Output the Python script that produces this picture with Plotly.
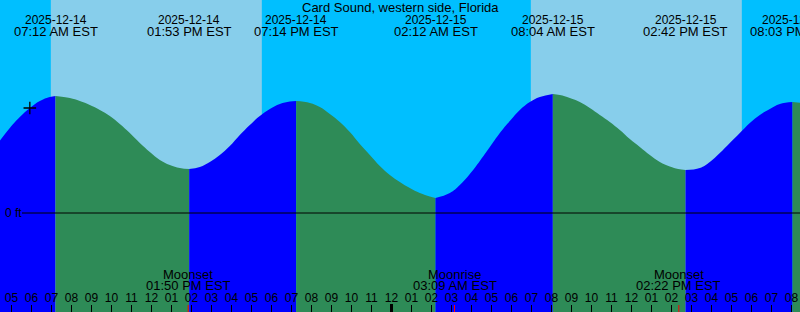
import plotly.graph_objects as go
from datetime import datetime

# ---------------- data ----------------
TITLE = "Card Sound, western side, Florida"

tide_times = [
    "2025-12-14 04:20", "2025-12-14 04:55", "2025-12-14 05:25", "2025-12-14 05:55",
    "2025-12-14 06:25", "2025-12-14 06:55", "2025-12-14 07:12", "2025-12-14 07:55",
    "2025-12-14 08:25", "2025-12-14 08:55", "2025-12-14 09:25", "2025-12-14 09:55",
    "2025-12-14 10:25", "2025-12-14 10:55", "2025-12-14 11:25", "2025-12-14 11:55",
    "2025-12-14 12:25", "2025-12-14 12:55", "2025-12-14 13:25", "2025-12-14 13:53",
    "2025-12-14 14:25", "2025-12-14 14:55", "2025-12-14 15:25", "2025-12-14 15:55",
    "2025-12-14 16:25", "2025-12-14 16:55", "2025-12-14 17:25", "2025-12-14 17:55",
    "2025-12-14 18:25", "2025-12-14 18:55", "2025-12-14 19:14", "2025-12-14 19:55",
    "2025-12-14 20:25", "2025-12-14 20:55", "2025-12-14 21:25", "2025-12-14 21:55",
    "2025-12-14 22:25", "2025-12-14 22:55", "2025-12-14 23:25", "2025-12-14 23:55",
    "2025-12-15 00:25", "2025-12-15 00:55", "2025-12-15 01:25", "2025-12-15 01:55",
    "2025-12-15 02:12", "2025-12-15 02:55", "2025-12-15 03:25", "2025-12-15 03:55",
    "2025-12-15 04:25", "2025-12-15 04:55", "2025-12-15 05:25", "2025-12-15 05:55",
    "2025-12-15 06:25", "2025-12-15 06:55", "2025-12-15 07:25", "2025-12-15 08:04",
    "2025-12-15 08:25", "2025-12-15 08:55", "2025-12-15 09:25", "2025-12-15 09:55",
    "2025-12-15 10:25", "2025-12-15 10:55", "2025-12-15 11:25", "2025-12-15 11:55",
    "2025-12-15 12:25", "2025-12-15 12:55", "2025-12-15 13:25", "2025-12-15 13:55",
    "2025-12-15 14:20", "2025-12-15 14:42", "2025-12-15 15:25", "2025-12-15 15:55",
    "2025-12-15 16:25", "2025-12-15 16:55", "2025-12-15 17:25", "2025-12-15 17:55",
    "2025-12-15 18:25", "2025-12-15 18:55", "2025-12-15 19:25", "2025-12-15 20:03",
    "2025-12-15 20:30",
]
tide_ft = [
    0.70, 0.85, 0.96, 1.05,
    1.12, 1.16, 1.17, 1.15,
    1.12, 1.08, 1.03, 0.97,
    0.89, 0.80, 0.70, 0.61,
    0.53, 0.48, 0.45, 0.44,
    0.46, 0.51, 0.58, 0.67,
    0.78, 0.88, 0.97, 1.04,
    1.09, 1.115, 1.12, 1.10,
    1.06, 0.99, 0.91, 0.81,
    0.69, 0.58, 0.47, 0.38,
    0.31, 0.25, 0.20, 0.165,
    0.15, 0.20, 0.28, 0.39,
    0.52, 0.66, 0.80, 0.92,
    1.03, 1.11, 1.16, 1.19,
    1.18, 1.15, 1.11, 1.05,
    0.98, 0.91, 0.83, 0.74,
    0.66, 0.58, 0.51, 0.465,
    0.44, 0.43, 0.45, 0.51,
    0.60, 0.70, 0.80, 0.90,
    0.98, 1.04, 1.09, 1.11,
    1.10,
]

# tide extremes (labelled along the top)
event_times = ["2025-12-14 07:12", "2025-12-14 13:53", "2025-12-14 19:14",
               "2025-12-15 02:12", "2025-12-15 08:04", "2025-12-15 14:42",
               "2025-12-15 20:03"]

# sun
sunrise_times = ["2025-12-14 06:58", "2025-12-15 06:58"]
sunset_times = ["2025-12-14 17:31", "2025-12-15 17:31"]

# moon
moon_times = ["2025-12-14 13:50", "2025-12-15 03:09", "2025-12-15 14:22"]
moon_labels = ["Moonset", "Moonrise", "Moonset"]

# current-time marker
now_time = ["2025-12-14 05:55"]
now_ft = [1.05]

midnight_times = ["2025-12-15 00:00"]

X_RANGE = ["2025-12-14 04:25:30", "2025-12-15 20:25:30"]
Y_RANGE = [-0.99, 2.13]

# ---------------- styling ----------------
NIGHT = "#00BFFF"
DAY = "#87CEEB"
RISE = "#0000FF"
FALL = "#2E8B57"
FONT = "Liberation Sans, Arial, sans-serif"
H = 312.0

fig = go.Figure()

# split curve into segments at the extremes
idx_events = [tide_times.index(t) for t in event_times]
bounds = [0] + idx_events + [len(tide_times) - 1]
for a, b in zip(bounds[:-1], bounds[1:]):
    if b <= a:
        continue
    xs = tide_times[a:b + 1]
    ys = tide_ft[a:b + 1]
    color = RISE if ys[-1] > ys[0] else FALL
    fig.add_trace(go.Scatter(x=xs, y=[Y_RANGE[0]] * len(xs), mode="lines",
                             line=dict(width=0, color=color), hoverinfo="skip"))
    fig.add_trace(go.Scatter(x=xs, y=ys, mode="lines",
                             line=dict(width=0, color=color, shape="spline", smoothing=1.2),
                             fill="tonexty", fillcolor=color, hoverinfo="skip"))

# now marker
fig.add_trace(go.Scatter(x=now_time, y=now_ft, mode="markers",
                         marker=dict(symbol="cross-thin", size=9,
                                     line=dict(color="black", width=1.3)),
                         hoverinfo="skip"))

shapes = []
# daylight bands
for sr, ss in zip(sunrise_times, sunset_times):
    shapes.append(dict(type="rect", xref="x", yref="paper", x0=sr, x1=ss, y0=0, y1=1,
                       fillcolor=DAY, line=dict(width=0), layer="below"))
# zero line
shapes.append(dict(type="line", xref="paper", yref="y", x0=22 / 800, x1=1, y0=0, y1=0,
                   line=dict(color="black", width=1), layer="above"))
# midnight tick
for m in midnight_times:
    shapes.append(dict(type="line", xref="x", yref="paper", x0=m, x1=m, y0=0, y1=8 / H,
                       line=dict(color="black", width=3), layer="above"))
# moon ticks
for m in moon_times:
    shapes.append(dict(type="line", xref="x", yref="paper", x0=m, x1=m, y0=0, y1=7 / H,
                       line=dict(color="red", width=1), layer="above"))

annotations = []
annotations.append(dict(text=TITLE, xref="paper", yref="paper", x=0.5, y=1 - 7.5 / H,
                        xanchor="center", yanchor="middle", showarrow=False,
                        font=dict(family=FONT, size=13, color="black")))
for t in event_times:
    dt = datetime.strptime(t, "%Y-%m-%d %H:%M")
    annotations.append(dict(text=dt.strftime("%Y-%m-%d"), xref="x", yref="paper", x=t,
                            y=1 - 19.5 / H, xanchor="center", yanchor="middle",
                            showarrow=False, font=dict(family=FONT, size=12, color="black")))
    annotations.append(dict(text=dt.strftime("%I:%M %p EST"), xref="x", yref="paper", x=t,
                            y=1 - 31.5 / H, xanchor="center", yanchor="middle",
                            showarrow=False, font=dict(family=FONT, size=13, color="black")))
for t, lab in zip(moon_times, moon_labels):
    dt = datetime.strptime(t, "%Y-%m-%d %H:%M")
    annotations.append(dict(text=lab, xref="x", yref="paper", x=t, y=1 - 274 / H,
                            xanchor="center", yanchor="middle", showarrow=False,
                            font=dict(family=FONT, size=13, color="black")))
    annotations.append(dict(text=dt.strftime("%I:%M %p EST"), xref="x", yref="paper", x=t,
                            y=1 - 285.5 / H, xanchor="center", yanchor="middle",
                            showarrow=False, font=dict(family=FONT, size=13, color="black")))
annotations.append(dict(text="0 ft", xref="paper", yref="y", x=24 / 800, y=0,
                        xanchor="right", yanchor="middle", showarrow=False,
                        font=dict(family=FONT, size=12, color="black")))

fig.update_layout(
    width=800, height=312,
    margin=dict(l=0, r=0, t=0, b=0),
    showlegend=False,
    plot_bgcolor=NIGHT, paper_bgcolor=NIGHT,
    shapes=shapes, annotations=annotations,
    xaxis=dict(type="date", range=X_RANGE, tick0="2025-12-14 05:00", dtick=3600000,
               tickformat="%I", ticks="inside", ticklen=7, tickwidth=1, tickcolor="black",
               ticklabelposition="inside", showgrid=False, zeroline=False, showline=False,
               tickfont=dict(family=FONT, size=12, color="black"), fixedrange=True),
    yaxis=dict(range=Y_RANGE, visible=False, fixedrange=True),
)

fig.write_html("out.html")
